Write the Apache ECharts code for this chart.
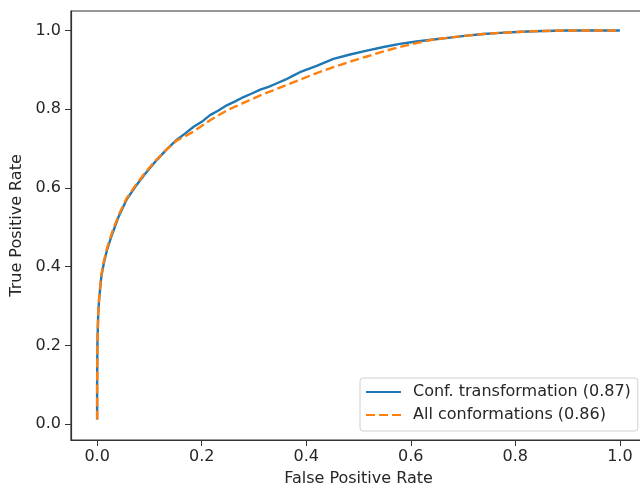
<!DOCTYPE html>
<html>
<head>
<meta charset="utf-8">
<script src="https://cdn.jsdelivr.net/npm/echarts@6/dist/echarts.min.js"></script>
<style>
  html, body { margin: 0; padding: 0; background: #fff; }
  #chart { width: 640px; height: 487px; }
</style>
</head>
<body>
<div id="chart"></div>
<script>
// ROC curves, points: [fpr, tpr]
const confTransformation = [
  [0, 0.012], [0, 0.1], [0.0005, 0.2], [0.002, 0.28], [0.004, 0.32],
  [0.008, 0.375], [0.013, 0.41], [0.019, 0.443], [0.028, 0.48],
  [0.041, 0.527], [0.057, 0.572], [0.073, 0.603], [0.09, 0.633],
  [0.11, 0.665], [0.133, 0.698], [0.152, 0.722], [0.168, 0.738],
  [0.184, 0.755], [0.2, 0.768], [0.216, 0.785], [0.232, 0.797],
  [0.248, 0.81], [0.264, 0.82], [0.28, 0.831], [0.296, 0.84],
  [0.312, 0.85], [0.328, 0.857], [0.344, 0.866], [0.36, 0.875],
  [0.376, 0.886], [0.388, 0.894], [0.42, 0.91], [0.452, 0.928],
  [0.484, 0.939], [0.516, 0.949], [0.548, 0.958], [0.579, 0.966],
  [0.611, 0.972], [0.643, 0.977], [0.675, 0.982], [0.707, 0.987],
  [0.739, 0.991], [0.771, 0.994], [0.803, 0.996], [0.834, 0.998],
  [0.898, 1.0], [1.0, 1.0]
];
const allConformations = [
  [0, 0.012], [0, 0.1], [0.0005, 0.2], [0.002, 0.28], [0.004, 0.325],
  [0.008, 0.38], [0.013, 0.415], [0.019, 0.448], [0.028, 0.485],
  [0.041, 0.531], [0.057, 0.575], [0.073, 0.606], [0.09, 0.636],
  [0.11, 0.667], [0.133, 0.698], [0.152, 0.72], [0.184, 0.743],
  [0.216, 0.772], [0.248, 0.797], [0.28, 0.816], [0.312, 0.835],
  [0.344, 0.852], [0.376, 0.869], [0.388, 0.875], [0.42, 0.892],
  [0.452, 0.907], [0.484, 0.921], [0.516, 0.934], [0.548, 0.947],
  [0.579, 0.958], [0.611, 0.968], [0.643, 0.977], [0.675, 0.982],
  [0.707, 0.987], [0.739, 0.991], [0.771, 0.994], [0.803, 0.996],
  [0.834, 0.998], [0.898, 1.0], [1.0, 1.0]
];
const seriesNames = ['Conf. transformation (0.87)', 'All conformations (0.86)'];
const tickValues = [0, 0.2, 0.4, 0.6, 0.8, 1.0];

const chart = echarts.init(document.getElementById('chart'));

const axisText = { color: '#262626', fontSize: 16, fontFamily: 'DejaVu Sans' };

chart.setOption({
  animation: false,
  backgroundColor: '#fff',
  textStyle: { fontFamily: 'DejaVu Sans' },
  grid: {
    left: 71,
    top: 11,
    width: 575,
    height: 429,
    outerBoundsMode: 'none',
    show: true,
    borderColor: '#333',
    borderWidth: 1.2
  },
  legend: {
    orient: 'vertical',
    left: 360,
    top: 378,
    padding: [6, 7, 8, 5],
    itemGap: 7,
    itemWidth: 35,
    itemHeight: 16,
    borderColor: '#d0d0d0',
    borderWidth: 1,
    borderRadius: 3,
    backgroundColor: '#fff',
    itemStyle: { opacity: 0, borderWidth: 0 },
    textStyle: { color: '#262626', fontSize: 16, fontFamily: 'DejaVu Sans', padding: [0, 0, 0, 7] },
    data: seriesNames
  },
  xAxis: {
    type: 'value',
    min: -0.05,
    max: 1.05,
    name: 'False Positive Rate',
    nameLocation: 'middle',
    nameGap: 31,
    nameTextStyle: axisText,
    axisLine: { show: true, onZero: false, lineStyle: { color: '#333', width: 1.2 } },
    axisTick: { show: true, length: 6, lineStyle: { color: '#333' }, customValues: tickValues },
    axisLabel: { ...axisText, margin: 9, customValues: tickValues, formatter: v => v.toFixed(1) },
    splitLine: { show: false }
  },
  yAxis: {
    type: 'value',
    min: -0.04,
    max: 1.0495,
    name: 'True Positive Rate',
    nameLocation: 'middle',
    nameGap: 45,
    nameTextStyle: axisText,
    axisLine: { show: true, onZero: false, lineStyle: { color: '#333', width: 1.2 } },
    axisTick: { show: true, length: 6, lineStyle: { color: '#333' }, customValues: tickValues },
    axisLabel: { ...axisText, margin: 10, customValues: tickValues, formatter: v => v.toFixed(1) },
    splitLine: { show: false }
  },
  series: [
    {
      name: seriesNames[0],
      type: 'line',
      data: confTransformation,
      symbol: 'none',
      color: '#1f77b4',
      lineStyle: { width: 2.4, color: '#1f77b4' },
      z: 2
    },
    {
      name: seriesNames[1],
      type: 'line',
      data: allConformations,
      symbol: 'none',
      color: '#ff7f0e',
      lineStyle: { width: 2.4, color: '#ff7f0e', type: [9, 4] },
      z: 3
    }
  ]
});
</script>
</body>
</html>
